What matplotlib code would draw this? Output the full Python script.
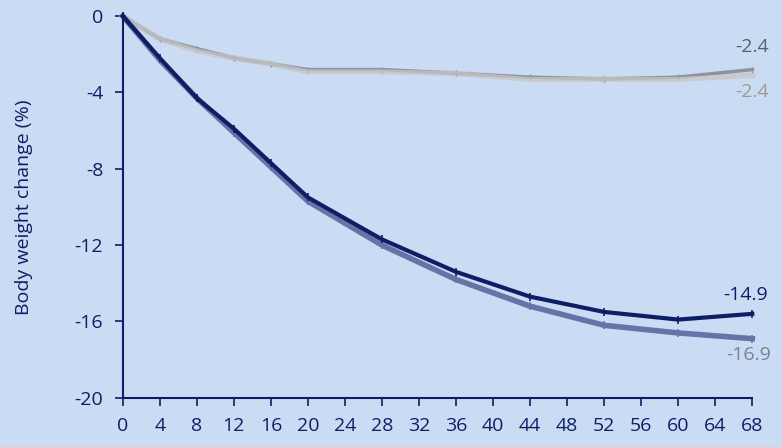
import matplotlib.pyplot as plt

plt.rcParams['font.family'] = ['Open Sans', 'DejaVu Sans']
plt.rcParams['axes.unicode_minus'] = False

weeks = [0, 4, 8, 12, 16, 20, 28, 36, 44, 52, 60, 68]
treat_a = [0, -2.2, -4.3, -5.9, -7.7, -9.5, -11.7, -13.4, -14.7, -15.5, -15.9, -15.6]
treat_b = [0, -2.3, -4.3, -6.1, -7.9, -9.7, -12.0, -13.8, -15.2, -16.2, -16.6, -16.9]
placebo_a = [0, -1.2, -1.7, -2.2, -2.5, -2.8, -2.8, -3.0, -3.2, -3.3, -3.2, -2.8]
placebo_b = [0, -1.2, -1.8, -2.2, -2.5, -2.9, -2.9, -3.0, -3.3, -3.3, -3.3, -3.1]
end_labels = ["-14.9", "-16.9", "-2.4", "-2.4"]

BG = "#cadcf4"
NAVY = "#0c1f66"

fig = plt.figure(figsize=(7.82, 4.47), dpi=100, facecolor=BG)
ax = fig.add_axes([0.157, 0.11, 0.805, 0.854], facecolor=BG)

ax.plot(weeks, placebo_b, color="#c8cacd", lw=4, marker="|", ms=5, mew=1, clip_on=False)
ax.plot(weeks, placebo_a, color="#8d929b", lw=2.5, marker="|", ms=5, mew=1, clip_on=False)
ax.plot(weeks, placebo_b, color="#c8cacd", lw=3, clip_on=False, alpha=0.7)
ax.plot(weeks, treat_b, color="#6673a6", lw=4, marker="|", ms=6, mew=1.2, clip_on=False)
ax.plot(weeks, treat_a, color=NAVY, lw=3, marker="|", ms=6, mew=1.2, clip_on=False)

ax.text(68, placebo_a[-1] + 0.7, end_labels[2], color="#5a5f6b", fontsize=14, ha="center", va="bottom")
ax.text(68, placebo_b[-1] - 0.4, end_labels[3], color="#a09a8c", fontsize=14, ha="center", va="top")
ax.text(67.3, treat_a[-1] + 0.5, end_labels[0], color=NAVY, fontsize=14, ha="center", va="bottom")
ax.text(67.6, treat_b[-1] - 0.4, end_labels[1], color="#7a7f95", fontsize=14, ha="center", va="top")

ax.set_xlim(0, 68)
ax.set_ylim(-20, 0)
ax.set_xticks(range(0, 69, 4))
ax.set_yticks(range(-20, 1, 4))
ax.set_ylabel("Body weight change (%)", color=NAVY, fontsize=14, labelpad=30)

for s in ["top", "right"]:
    ax.spines[s].set_visible(False)
for s in ["left", "bottom"]:
    ax.spines[s].set_color(NAVY)
    ax.spines[s].set_linewidth(1.5)
ax.tick_params(colors=NAVY, labelcolor=NAVY, labelsize=14, length=6, width=1.2, pad=8)

fig.savefig("out.png", dpi=100, facecolor=BG)
